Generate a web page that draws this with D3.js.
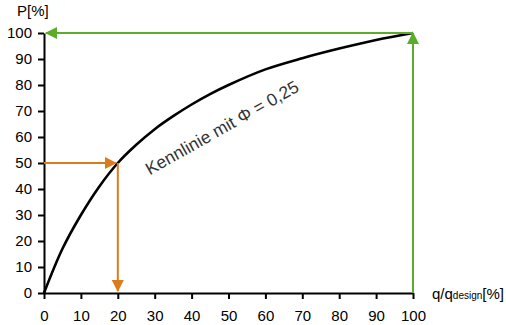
<!DOCTYPE html>
<html>
<head>
<meta charset="utf-8">
<script src="https://cdn.jsdelivr.net/npm/d3@7"></script>
<style>
  html, body { margin: 0; padding: 0; background: #fff; }
  svg { display: block; font-family: "Liberation Sans", Arial, sans-serif; }
</style>
</head>
<body>
<svg id="chart" width="506" height="325"></svg>
<script>
// Relative flow q/q_design [%] and relative power P [%] along the characteristic
const flowPct  = [0, 5, 10, 15, 20, 25, 30, 35, 40, 45, 50, 60, 70, 80, 90, 100];
const powerPct = [0, 17, 30, 41, 50, 57, 63, 68, 72.5, 76.5, 80, 86, 90.3, 94, 97.3, 100];

const xTicks = [0, 10, 20, 30, 40, 50, 60, 70, 80, 90, 100];
const yTicks = [0, 10, 20, 30, 40, 50, 60, 70, 80, 90, 100];

// Design point read-off (orange) and full-load point (green)
const readOff = { q: 20, p: 50 };
const fullLoad = { q: 100, p: 100 };

const curveLabel = "Kennlinie mit \u03A6 = 0,25";

const svg = d3.select("#chart");
const plotLeft = 44, plotRight = 413, plotTop = 33, plotBottom = 293;

const x = d3.scaleLinear().domain([0, 100]).range([plotLeft, plotRight]);
const y = d3.scaleLinear().domain([0, 100]).range([plotBottom, plotTop]);

const orange = "#dc7a1c";
const green = "#5aac2a";

// Axes
const yAxis = svg.append("g")
  .attr("transform", `translate(${plotLeft},0)`)
  .call(d3.axisLeft(y).tickValues(yTicks).tickSize(6).tickSizeOuter(0).tickPadding(6));
const xAxis = svg.append("g")
  .attr("transform", `translate(0,${plotBottom})`)
  .call(d3.axisBottom(x).tickValues(xTicks).tickSize(6).tickSizeOuter(0).tickPadding(7));

[yAxis, xAxis].forEach(g => {
  g.select(".domain").attr("stroke", "#000").attr("stroke-width", 2);
  g.selectAll(".tick line").attr("stroke", "#000").attr("stroke-width", 2);
  g.selectAll(".tick text")
    .attr("fill", "#000")
    .style("font-size", "15px")
    .style("font-family", "'Liberation Sans', Arial, sans-serif");
});
xAxis.selectAll(".tick text").attr("dy", "1em");

// Axis titles
svg.append("text")
  .attr("x", 17).attr("y", 16)
  .style("font-size", "15px")
  .text("P[%]");

const xt = svg.append("text")
  .attr("x", 432).attr("y", 299)
  .style("font-size", "15px");
xt.append("tspan").text("q/q");
xt.append("tspan").style("font-size", "10px").text("design");
xt.append("tspan").text("[%]");

// Arrow heads
const defs = svg.append("defs");
function marker(id, color) {
  defs.append("marker")
    .attr("id", id)
    .attr("viewBox", "0 0 12 12")
    .attr("refX", 11).attr("refY", 6)
    .attr("markerWidth", 12).attr("markerHeight", 12)
    .attr("markerUnits", "userSpaceOnUse")
    .attr("orient", "auto")
    .append("path")
    .attr("d", "M0,0 L12,6 L0,12 Z")
    .attr("fill", color);
}
marker("arrowGreen", green);
marker("arrowOrange", orange);

// Characteristic curve
const line = d3.line()
  .x((d, i) => x(flowPct[i]))
  .y(d => y(d))
  .curve(d3.curveCatmullRom.alpha(0.5));

svg.append("path")
  .datum(powerPct)
  .attr("d", line)
  .attr("fill", "none")
  .attr("stroke", "#000")
  .attr("stroke-width", 2.6);

// Green arrows: up from the x-axis at full flow, then left to the P-axis
svg.append("line")
  .attr("x1", x(fullLoad.q)).attr("y1", y(0))
  .attr("x2", x(fullLoad.q)).attr("y2", y(fullLoad.p))
  .attr("stroke", green).attr("stroke-width", 2)
  .attr("marker-end", "url(#arrowGreen)");
svg.append("line")
  .attr("x1", x(fullLoad.q)).attr("y1", y(fullLoad.p))
  .attr("x2", x(0) + 2).attr("y2", y(fullLoad.p))
  .attr("stroke", green).attr("stroke-width", 2)
  .attr("marker-end", "url(#arrowGreen)");

// Orange arrows: from P = 50 % across to the curve, then down to the flow axis
svg.append("line")
  .attr("x1", x(0)).attr("y1", y(readOff.p))
  .attr("x2", x(readOff.q) - 2).attr("y2", y(readOff.p))
  .attr("stroke", orange).attr("stroke-width", 2)
  .attr("marker-end", "url(#arrowOrange)");
svg.append("line")
  .attr("x1", x(readOff.q)).attr("y1", y(readOff.p))
  .attr("x2", x(readOff.q)).attr("y2", y(0) - 2)
  .attr("stroke", orange).attr("stroke-width", 2)
  .attr("marker-end", "url(#arrowOrange)");

// Curve label
svg.append("text")
  .attr("transform", "translate(225,133) rotate(-29.5)")
  .attr("text-anchor", "middle")
  .attr("fill", "#333")
  .style("font-size", "17.5px")
  .text(curveLabel);
</script>
</body>
</html>
